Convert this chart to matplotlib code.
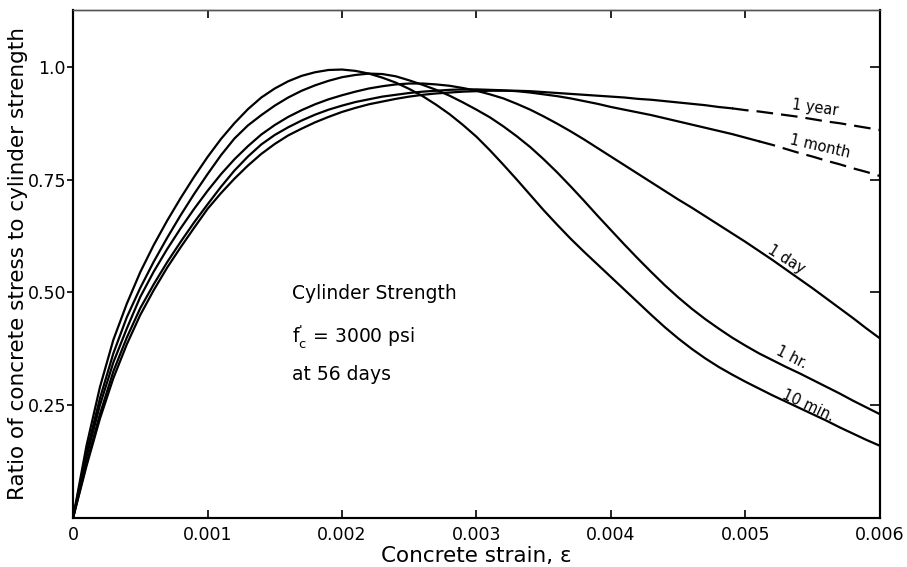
import matplotlib
matplotlib.use('Agg')
from matplotlib import pyplot as plt

strain = [0, 0.0001, 0.0002, 0.0003, 0.0004, 0.0005, 0.0006, 0.0007, 0.0008,
          0.0009, 0.0010, 0.0011, 0.0012, 0.0013, 0.0014, 0.0015, 0.0016,
          0.0017, 0.0018, 0.0019, 0.0020, 0.0021, 0.0022, 0.0023, 0.0024,
          0.0025, 0.0026, 0.0027, 0.0028, 0.0029, 0.0030, 0.0031, 0.0032,
          0.0033, 0.0034, 0.0035, 0.0036, 0.0037, 0.0038, 0.0039, 0.0040,
          0.0041, 0.0042, 0.0043, 0.0044, 0.0045, 0.0046, 0.0047, 0.0048,
          0.0049, 0.0050, 0.0051, 0.0052, 0.0053, 0.0054, 0.0055, 0.0056,
          0.0057, 0.0058, 0.0059, 0.0060]

# stress / cylinder strength for each loading time
ratio_10min = [0, .16, .29, .395, .475, .545, .605, .659, .709, .756, .800,
               .840, .875, .906, .932, .952, .968, .980, .988, .993, .994,
               .991, .985, .976, .965, .951, .935, .916, .895, .871, .845,
               .815, .783, .750, .716, .682, .650, .619, .590, .562, .534,
               .506, .478, .450, .423, .398, .375, .354, .335, .318, .302,
               .287, .272, .258, .244, .230, .216, .201, .187, .173, .160]
ratio_1hr = [0, .145, .265, .365, .445, .51, .568, .621, .671, .718, .762,
             .804, .841, .870, .893, .914, .932, .947, .959, .969, .977,
             .982, .985, .984, .979, .970, .960, .949, .936, .921, .905,
             .888, .868, .846, .822, .795, .766, .735, .703, .670, .638,
             .606, .575, .545, .516, .489, .464, .441, .420, .400, .382,
             .365, .350, .335, .321, .306, .291, .276, .260, .245, .230]
ratio_1day = [0, .135, .25, .345, .42, .49, .546, .596, .642, .685, .725,
              .762, .795, .824, .850, .871, .889, .904, .917, .928, .937,
              .945, .952, .957, .961, .963, .963, .961, .958, .953, .947,
              .939, .930, .918, .905, .890, .874, .857, .839, .820, .801,
              .782, .763, .744, .725, .706, .688, .669, .650, .631, .612,
              .592, .572, .551, .530, .509, .487, .465, .443, .420, .398]
ratio_1month = [0, .12, .23, .325, .40, .465, .518, .567, .612, .655, .695,
                .734, .77, .801, .828, .849, .866, .881, .894, .905, .914,
                .922, .928, .934, .938, .942, .945, .947, .949, .950, .950,
                .949, .948, .946, .943, .939, .935, .930, .924, .918, .911,
                .905, .899, .893, .886, .879, .872, .865, .858, .851, .843,
                .835, .827, .818, .809, .801, .792, .784, .775, .767, .758]
ratio_1year = [0, .115, .22, .31, .385, .45, .505, .555, .60, .643, .685,
               .72, .752, .781, .807, .829, .848, .863, .877, .889, .900,
               .909, .917, .923, .929, .934, .938, .941, .943, .945, .946,
               .947, .947, .947, .946, .944, .942, .940, .938, .936, .934,
               .932, .929, .927, .924, .921, .918, .915, .911, .908, .904,
               .901, .897, .893, .889, .884, .879, .875, .870, .865, .860]

etiquetas = ['10 min.', '1 hr.', '1 day', '1 month', '1 year']
curvas = [ratio_10min, ratio_1hr, ratio_1day, ratio_1month, ratio_1year]
# strain from which the curve is drawn dashed (None = solid all the way)
dash_from = [None, None, None, 0.0051, 0.0049]

x_ticks = [0, 0.001, 0.002, 0.003, 0.004, 0.005, 0.006]
x_tick_labels = ['0', '0.001', '0.002', '0.003', '0.004', '0.005', '0.006']
y_ticks = [0.25, 0.5, 0.75, 1.0]
y_tick_labels = ['0.25', '0.50', '0.75', '1.0']

# label placement (strain, ratio, rotation)
label_pos = [(0.005465, 0.248, -25), (0.005346, 0.355, -27),
             (0.00530, 0.572, -32), (0.005554, 0.823, -13),
             (0.005517, 0.909, -8)]

plt.rcParams['font.family'] = ['DejaVu Sans']

fig = plt.figure(figsize=(9.07, 5.67), dpi=100)
ax = fig.add_axes([0.0805, 0.0864, 0.8897, 0.896])

for valores, corte in zip(curvas, dash_from):
    if corte is None:
        ax.plot(strain, valores, color='black', lw=1.6)
    else:
        i = strain.index(corte)
        ax.plot(strain[:i + 1], valores[:i + 1], color='black', lw=1.6)
        ax.plot(strain[i:], valores[i:], color='black', lw=1.6,
                dashes=(7.5, 3.6))

for texto, (x, y, rot) in zip(etiquetas, label_pos):
    ax.text(x, y, texto, fontsize=10.5, rotation=rot, ha='center',
            va='center', rotation_mode='anchor')

# note in the middle of the plot
ax.text(0.001626, 0.497, 'Cylinder Strength', fontsize=13.5, va='center')
ax.text(0.001626, 0.403, r"$\mathregular{f_{c}^{\text{'}}}$ = 3000 psi",
        fontsize=13.5, va='center')
ax.text(0.001626, 0.319, 'at 56 days', fontsize=13.5, va='center')

ax.set_xlim(0, 0.006)
ax.set_ylim(0, 1.126)
ax.set_xticks(x_ticks)
ax.set_xticklabels(x_tick_labels)
ax.set_yticks(y_ticks)
ax.set_yticklabels(y_tick_labels)
ax.tick_params(axis='x', direction='in', length=6, width=1.2, top=True,
               labelsize=12.5, pad=6)
ax.tick_params(axis='y', direction='out', length=4, width=1.2,
               labelsize=12.5, pad=1)

# inward ticks on the right side
ax2 = ax.twinx()
ax2.set_ylim(ax.get_ylim())
ax2.set_yticks(y_ticks)
ax2.set_yticklabels([])
ax2.tick_params(axis='y', direction='in', length=7, width=1.2)

for sp in list(ax.spines.values()) + list(ax2.spines.values()):
    sp.set_linewidth(1.5)
for a in (ax, ax2):
    a.spines['top'].set_linewidth(1.0)
    a.spines['top'].set_color('#555555')

ax.set_xlabel('Concrete strain, ε', fontsize=15.5, labelpad=1)
ax.set_ylabel('Ratio of concrete stress to cylinder strength', fontsize=15.5,
              labelpad=0)

plt.savefig('out.png', dpi=100)
